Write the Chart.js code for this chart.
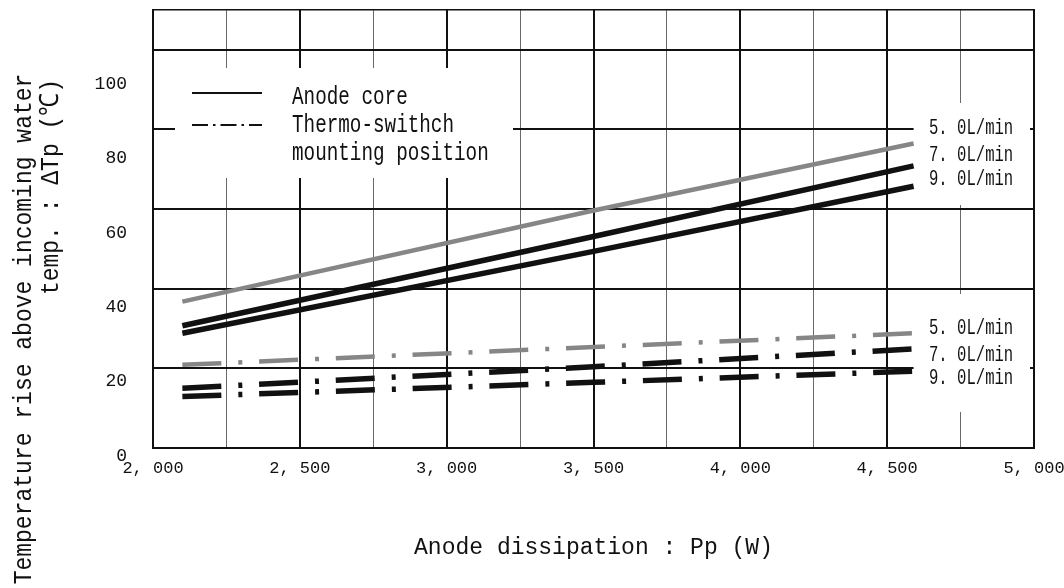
<!DOCTYPE html>
<html><head><meta charset="utf-8">
<script src="https://cdn.jsdelivr.net/npm/chart.js@4.4.1/dist/chart.umd.min.js"></script>
<style>html,body{margin:0;padding:0;background:#fff;overflow:hidden}#wrap{width:1064px;height:588px}</style>
</head><body><div id="wrap"><canvas id="c" width="1064" height="588"></canvas></div>
<script>
// ---- data ----
const powerW      = [2100, 3500, 4590];
const anodeCore50 = [41.5, 66.0, 84.0];
const anodeCore70 = [35.0, 59.0, 78.0];
const anodeCore90 = [33.0, 55.0, 72.5];
const thermoSw50  = [24.5, 29.3, 33.0];
const thermoSw70  = [18.2, 24.0, 28.8];
const thermoSw90  = [16.0, 19.8, 22.8];
const flowLabels  = ['5. 0L/min', '7. 0L/min', '9. 0L/min'];
const legendNames = ['Anode core', 'Thermo-swithch', 'mounting position'];
const xTickValues = [2000, 2500, 3000, 3500, 4000, 4500, 5000];
const xTickLabels = ['2, 000', '2, 500', '3, 000', '3, 500', '4, 000', '4, 500', '5, 000'];
const yTickValues = [0, 20, 40, 60, 80, 100];
const yTickLabels = ['0', '20', '40', '60', '80', '100'];
const yGridValues = [0, 20, 40, 60, 80, 100, 110];
const xTitle = 'Anode dissipation : Pp (W)';
const yTitle = ['Temperature rise above incoming water', 'temp. : \u0394Tp (\u2103)'];

// ---- styles ----
const FONT = "'Liberation Mono', 'DejaVu Sans Mono', monospace";
const INK = '#111111';
const GREY = '#868686';
const DASH_DOT = [39, 17, 4, 16.8];

function pts(vals) { return powerW.map((x, i) => ({ x: x, y: vals[i] })); }

function line(label, vals, color, dashed) {
  return {
    label: label, data: pts(vals), borderColor: color, backgroundColor: color,
    borderWidth: color === GREY ? 4.5 : 5.5, borderDash: dashed ? DASH_DOT : [],
    pointRadius: 0, tension: 0, fill: false, borderCapStyle: 'butt'
  };
}

function drawText(ctx, text, x, y, size, sy, align) {
  ctx.save();
  ctx.font = size + 'px ' + FONT;
  ctx.fillStyle = INK;
  ctx.textAlign = align || 'left';
  ctx.textBaseline = 'middle';
  ctx.translate(x, y);
  ctx.scale(1, sy);
  ctx.fillText(text, 0, 0);
  ctx.restore();
}

function noPad(s) { s.paddingLeft = 0; s.paddingRight = 0; s.paddingTop = 0; s.paddingBottom = 0; }

const maskPlugin = {
  id: 'masks',
  beforeDatasetsDraw(chart) {
    const ctx = chart.ctx, xs = chart.scales.x;
    const endX = xs.getPixelForValue(powerW[powerW.length - 1]);
    ctx.save();
    ctx.fillStyle = '#ffffff';
    ctx.fillRect(175, 68, 338, 110);            // legend box
    ctx.fillRect(endX, 103, 1030 - endX, 102);  // upper flow labels
    ctx.fillRect(endX, 294, 1030 - endX, 118);  // lower flow labels
    ctx.restore();
  }
};

const annotatePlugin = {
  id: 'annotate',
  afterDatasetsDraw(chart) {
    const ctx = chart.ctx;
    // legend
    ctx.save();
    ctx.strokeStyle = INK; ctx.lineWidth = 2;
    ctx.beginPath(); ctx.moveTo(192, 93); ctx.lineTo(262, 93); ctx.stroke();
    ctx.setLineDash([16, 5, 2.5, 5]);
    ctx.beginPath(); ctx.moveTo(192, 125); ctx.lineTo(262, 125); ctx.stroke();
    ctx.restore();
    drawText(ctx, legendNames[0], 292, 97, 19.3, 1.35);
    drawText(ctx, legendNames[1], 292, 125, 19.3, 1.35);
    drawText(ctx, legendNames[2], 292, 153, 19.3, 1.35);
    // flow-rate labels
    const upper = [128, 155, 179], lower = [328, 355, 378];
    flowLabels.forEach((t, i) => {
      drawText(ctx, t, 929, upper[i], 15.6, 1.4);
      drawText(ctx, t, 929, lower[i], 15.6, 1.4);
    });
    // y-axis title (two lines)
    [[yTitle[0], 24, 329], [yTitle[1], 51, 187]].forEach(([t, x, y]) => {
      ctx.save();
      ctx.translate(x, y);
      ctx.rotate(-Math.PI / 2);
      ctx.scale(1, 1.15);
      ctx.font = '23px ' + FONT;
      ctx.fillStyle = INK;
      ctx.textAlign = 'center';
      ctx.textBaseline = 'middle';
      ctx.fillText(t, 0, 0);
      ctx.restore();
    });
  }
};

new Chart(document.getElementById('c'), {
  type: 'line',
  data: {
    datasets: [
      line('Anode core 5.0L/min', anodeCore50, GREY, false),
      line('Anode core 7.0L/min', anodeCore70, INK, false),
      line('Anode core 9.0L/min', anodeCore90, INK, false),
      line('Thermo-switch 5.0L/min', thermoSw50, GREY, true),
      line('Thermo-switch 7.0L/min', thermoSw70, INK, true),
      line('Thermo-switch 9.0L/min', thermoSw90, INK, true)
    ]
  },
  options: {
    responsive: false, animation: false, devicePixelRatio: 1,
    layout: { padding: { top: 10, left: 0, right: 0, bottom: 0 } },
    plugins: { legend: { display: false }, tooltip: { enabled: false } },
    scales: {
      x: {
        type: 'linear', min: 2000, max: 5000,
        ticks: {
          stepSize: 250, autoSkip: false, maxRotation: 0, padding: 10, color: INK,
          font: { family: FONT, size: 17 },
          callback: (v) => { const i = xTickValues.indexOf(v); return i < 0 ? '' : xTickLabels[i]; }
        },
        grid: {
          drawTicks: false,
          color: (c) => (c.tick && c.tick.value % 500 === 0) ? INK : '#6a6a6a',
          lineWidth: (c) => (c.tick && c.tick.value % 500 === 0) ? 2 : 1
        },
        border: { display: true, color: INK, width: 2 },
        title: { display: true, text: xTitle, color: INK, font: { family: FONT, size: 23 }, padding: { top: 0, bottom: 26 } },
        afterFit: (s) => { s.height = 140; noPad(s); }
      },
      y: {
        type: 'linear', position: 'left', min: 2.15, max: 119.9,
        afterBuildTicks: (s) => { s.ticks = yTickValues.map(v => ({ value: v })); },
        ticks: {
          autoSkip: false, padding: 26, color: INK, font: { family: FONT, size: 18 },
          callback: (v) => { const i = yTickValues.indexOf(v); return i < 0 ? '' : yTickLabels[i]; }
        },
        grid: { display: false, drawTicks: false },
        border: { display: true, color: INK, width: 1.5 },
        afterFit: (s) => { s.width = 153; noPad(s); }
      },
      yg: {
        type: 'linear', position: 'right', min: 0, max: 110,
        afterBuildTicks: (s) => { s.ticks = yGridValues.map(v => ({ value: v })); },
        ticks: { display: false },
        grid: { drawTicks: false, color: INK, lineWidth: (c) => (c.tick && c.tick.value === 110) ? 1.5 : 2 },
        border: { display: true, color: INK, width: 2 },
        afterFit: (s) => { s.width = 30; noPad(s); }
      }
    }
  },
  plugins: [maskPlugin, annotatePlugin]
});
</script>
</body></html>
